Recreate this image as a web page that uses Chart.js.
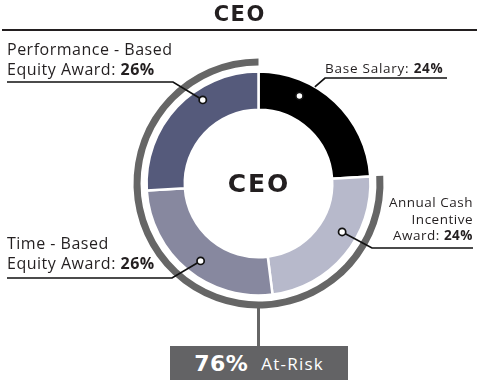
<!DOCTYPE html>
<html>
<head>
<meta charset="utf-8">
<script src="https://cdn.jsdelivr.net/npm/chart.js@4/dist/chart.umd.min.js"></script>
<style>
  body { margin: 0; background: #fff; font-family: "Open Sans", sans-serif; color: #231f20; }
  #wrap { position: relative; width: 478px; height: 380px; overflow: hidden; }
  #chart { position: absolute; left: 0; top: 0; }
  .lbl { position: absolute; white-space: nowrap; letter-spacing: 0.5px; }
  .lbl b { font-weight: 700; }
  .heavy { font-family: "DejaVu Sans", sans-serif; font-weight: 700; }
  #title { position: absolute; left: 0; width: 478px; top: 0; text-align: center; font-size: 21px; line-height: 28px; letter-spacing: 1.5px; text-indent: 1.5px; }
  #rule { position: absolute; left: 2px; width: 475px; top: 29px; height: 2px; background: #231f20; }
  #center { position: absolute; left: 196px; width: 124px; top: 168px; text-align: center; font-size: 25px; line-height: 32px; letter-spacing: 2px; text-indent: 2px; }
  #box { position: absolute; left: 170px; top: 346px; width: 178px; height: 34px; background: #636365; color: #fff;
         display: flex; align-items: center; justify-content: center; gap: 13px; }
  #box .pct { font-size: 22px; letter-spacing: 0.5px; }
  #box .txt { font-size: 17px; letter-spacing: 1.2px; }
</style>
</head>
<body>
<div id="wrap">
  <canvas id="chart" width="478" height="380"></canvas>
  <div id="title" class="heavy">CEO</div>
  <div id="rule"></div>
  <div id="center" class="heavy">CEO</div>
  <div id="lblPerf" class="lbl" style="left:7px; top:39px; font-size:16px; line-height:20px;"></div>
  <div id="lblBase" class="lbl" style="left:325px; top:60px; font-size:13.5px; line-height:16px; letter-spacing:0.75px;"></div>
  <div id="lblCash" class="lbl" style="right:5px; top:194px; font-size:13.5px; line-height:16.7px; text-align:right;"></div>
  <div id="lblTime" class="lbl" style="left:7px; top:234px; font-size:16px; line-height:19.5px;"></div>
  <div id="box"><span class="pct heavy"></span><span class="txt">At-Risk</span></div>
</div>
<script>
const categories = ["Base Salary", "Annual Cash Incentive Award", "Time - Based Equity Award", "Performance - Based Equity Award"];
const values = [24, 24, 26, 26];
const atRisk = [false, true, true, true];
const colors = ["#000000", "#b7b9cb", "#87889f", "#555a7b"];

const atRiskTotal = values.reduce((s, v, i) => s + (atRisk[i] ? v : 0), 0);
const fixedTotal = values.reduce((s, v, i) => s + (atRisk[i] ? 0 : v), 0);

document.getElementById("lblPerf").innerHTML = "Performance - Based<br>Equity Award: <b>" + values[3] + "%</b>";
document.getElementById("lblBase").innerHTML = "Base Salary: <b>" + values[0] + "%</b>";
document.getElementById("lblCash").innerHTML = "Annual Cash<br>Incentive<br>Award: <b>" + values[1] + "%</b>";
document.getElementById("lblTime").innerHTML = "Time - Based<br>Equity Award: <b>" + values[2] + "%</b>";
document.querySelector("#box .pct").textContent = atRiskTotal + "%";

// where each dot sits inside its slice (fraction of the angle, fraction of the thickness)
// and the label side of each leader line
const leaders = [
  { index: 0, dot: [0.29, 0.6], hit: [0.35, 1.0], path: [[325, 78], [447, 78]] },
  { index: 1, dot: [0.39, 0.6], hit: null, path: [[372, 248], [473, 248]] },
  { index: 2, dot: [0.47, 0.6], hit: null, path: [[172, 278], [7, 278]] },
  { index: 3, dot: [0.64, 0.7], hit: null, path: [[173, 82], [7, 82]] }
];

function arcPoint(arc, f) {
  const p = arc.getProps(["x", "y", "startAngle", "endAngle", "innerRadius", "outerRadius"], true);
  const a = p.startAngle + (p.endAngle - p.startAngle) * f[0];
  const r = p.innerRadius + (p.outerRadius - p.innerRadius) * f[1];
  return [p.x + Math.cos(a) * r, p.y + Math.sin(a) * r];
}

const leaderPlugin = {
  id: "leaders",
  afterDatasetsDraw(chart) {
    const ctx = chart.ctx;
    const arcs = chart.getDatasetMeta(2).data;
    const ring = chart.getDatasetMeta(0).data[1];
    ctx.save();
    // stem from the at-risk ring down to the box
    ctx.strokeStyle = "#666666";
    ctx.lineWidth = 3;
    ctx.beginPath();
    ctx.moveTo(ring.x, ring.y + ring.outerRadius - 1);
    ctx.lineTo(ring.x, 347);
    ctx.stroke();

    ctx.strokeStyle = "#111111";
    ctx.lineWidth = 1.7;
    leaders.forEach(l => {
      const arc = arcs[l.index];
      const dot = arcPoint(arc, l.dot);
      const start = l.hit ? arcPoint(arc, l.hit) : dot;
      ctx.beginPath();
      ctx.moveTo(start[0], start[1]);
      l.path.forEach(p => ctx.lineTo(p[0], p[1]));
      ctx.stroke();
    });
    leaders.forEach(l => {
      const dot = arcPoint(arcs[l.index], l.dot);
      ctx.beginPath();
      ctx.arc(dot[0], dot[1], 3.6, 0, Math.PI * 2);
      ctx.fillStyle = "#ffffff";
      ctx.fill();
      ctx.stroke();
    });
    ctx.restore();
  }
};

new Chart(document.getElementById("chart"), {
  type: "doughnut",
  data: {
    labels: categories,
    datasets: [
      {
        data: [fixedTotal, atRiskTotal],
        backgroundColor: ["rgba(0,0,0,0)", "#666666"],
        borderWidth: 0,
        weight: 7
      },
      {
        data: [1],
        backgroundColor: ["rgba(0,0,0,0)"],
        borderWidth: 0,
        weight: 6
      },
      {
        data: values,
        backgroundColor: colors,
        borderColor: "#ffffff",
        borderWidth: 2.5,
        weight: 38
      }
    ]
  },
  options: {
    responsive: false,
    animation: false,
    devicePixelRatio: 1,
    radius: 125,
    cutout: "59%",
    layout: { padding: { left: 133, right: 94, top: 58, bottom: 71 } },
    plugins: {
      legend: { display: false },
      tooltip: { enabled: false }
    },
    events: []
  },
  plugins: [leaderPlugin]
});
</script>
</body>
</html>
